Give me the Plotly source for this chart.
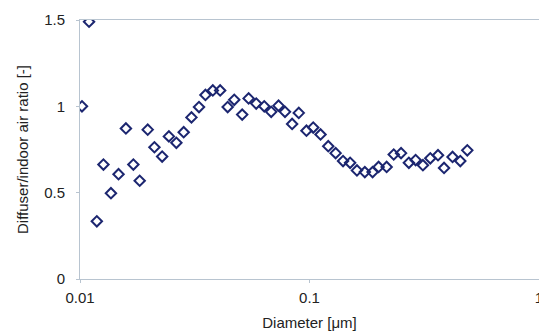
import plotly.graph_objects as go

diameter_um = [0.0102, 0.01095, 0.01184, 0.01265, 0.01364, 0.01472, 0.01585, 0.01708, 0.0182,
               0.01973, 0.0211, 0.0228, 0.0244, 0.0263, 0.0283, 0.0306, 0.033, 0.0352, 0.0379,
               0.0408, 0.044, 0.047, 0.0509, 0.0543, 0.0586, 0.0635, 0.0681, 0.0733, 0.0782,
               0.084, 0.0898, 0.097, 0.1038, 0.1117, 0.1207, 0.13, 0.14, 0.1503, 0.161, 0.1742,
               0.1883, 0.2, 0.2168, 0.2328, 0.2506, 0.271, 0.29, 0.312, 0.336, 0.363, 0.3857,
               0.42, 0.454, 0.487]
ratio = [1.0, 1.49, 0.334, 0.663, 0.497, 0.607, 0.872, 0.663, 0.569,
         0.865, 0.763, 0.709, 0.826, 0.789, 0.850, 0.936, 0.996, 1.066, 1.092,
         1.092, 0.996, 1.038, 0.952, 1.046, 1.016, 1.0, 0.968, 1.004, 0.968,
         0.898, 0.962, 0.859, 0.877, 0.837, 0.769, 0.729, 0.683, 0.673, 0.629, 0.619,
         0.619, 0.649, 0.649, 0.721, 0.729, 0.673, 0.689, 0.659, 0.699, 0.717, 0.643,
         0.707, 0.683, 0.745]

x_ticks = [0.01, 0.1, 1]
x_tick_labels = ["0.01", "0.1", "1"]
y_ticks = [0, 0.5, 1, 1.5]
y_tick_labels = ["0", "0.5", "1", "1.5"]

fig = go.Figure()
fig.add_trace(go.Scatter(
    x=diameter_um, y=ratio, mode="markers",
    marker=dict(symbol="diamond-open", size=8, color="#1c2670", line=dict(width=2, color="#1c2670")),
    showlegend=False,
))

font = "Liberation Sans, Arial, sans-serif"
# page body has an 8px default margin, so the figure is sized to fit the window
fig.update_layout(
    width=539, height=326,
    margin=dict(l=72, r=8, t=12, b=55),
    paper_bgcolor="white", plot_bgcolor="white",
    font=dict(family=font, size=15, color="#222222"),
)
fig.update_xaxes(
    type="log", range=[-2, 0], automargin=False,
    tickvals=x_ticks, ticktext=x_tick_labels,
    showgrid=False, zeroline=False,
    showline=True, linecolor="#b8c4d0", linewidth=1, mirror=True,
    ticks="outside", ticklen=3, tickcolor="#b8c4d0",
    tickfont=dict(size=15), ticklabelstandoff=2,
    title=dict(text="Diameter [μm]", font=dict(size=15), standoff=12),
)
fig.update_yaxes(
    range=[0, 1.5], automargin=False,
    tickvals=y_ticks, ticktext=y_tick_labels,
    showgrid=False, zeroline=False,
    showline=True, linecolor="#b8c4d0", linewidth=1, mirror=True,
    ticks="outside", ticklen=3, tickcolor="#b8c4d0",
    tickfont=dict(size=15), ticklabelstandoff=8,
    title=dict(text="Diffuser/indoor air ratio [-]", font=dict(size=15), standoff=11),
)

fig.write_html("out.html")
